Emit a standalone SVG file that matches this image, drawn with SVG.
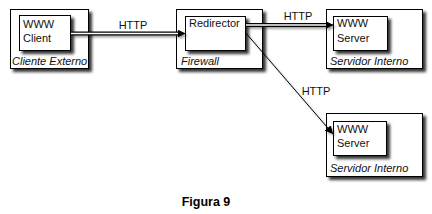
<svg xmlns="http://www.w3.org/2000/svg" width="432" height="214" viewBox="0 0 432 214">
<defs>
<filter id="sh" x="-20%" y="-20%" width="150%" height="150%">
<feDropShadow dx="3" dy="3" stdDeviation="1.5" flood-color="#000" flood-opacity="0.8"/>
</filter>
<filter id="lsh" x="-20%" y="-20%" width="150%" height="150%">
<feDropShadow dx="2" dy="2" stdDeviation="1.2" flood-color="#000" flood-opacity="0.35"/>
</filter>
<marker id="ah" viewBox="0 0 10 10" refX="10" refY="5" markerWidth="8" markerHeight="8" markerUnits="userSpaceOnUse" orient="auto">
<path d="M0,0 L10,5 L0,10 z" fill="#000"/>
</marker>
</defs>
<style>
.box{fill:#fff;stroke:#000;stroke-width:1;filter:url(#sh)}
.t{font-family:"Liberation Sans",Arial,sans-serif;font-size:11px;fill:#111}
.i{font-family:"Liberation Sans",Arial,sans-serif;font-size:11px;font-style:italic;fill:#111}
.dl{stroke:#000;stroke-width:4;fill:none}
.dw{stroke:#fff;stroke-width:1.6;fill:none}
</style>
<rect width="432" height="214" fill="#fff"/>
<g id="cliente">
<rect class="box" x="10.5" y="9.5" width="78" height="59"/>
<rect class="box" x="19.5" y="15.5" width="51" height="35"/>
<text class="t" x="23" y="28">WWW</text>
<text class="t" x="23" y="42">Client</text>
<text class="i" x="12" y="65">Cliente Externo</text>
</g>
<g id="firewall">
<rect class="box" x="176.5" y="9.5" width="86" height="59"/>
<rect class="box" x="185.5" y="16.5" width="60" height="34"/>
<text class="t" x="189" y="27">Redirector</text>
<text class="i" x="181" y="65">Firewall</text>
</g>
<g id="servidor1">
<rect class="box" x="326.5" y="9.5" width="96" height="59"/>
<rect class="box" x="333.5" y="16.5" width="54" height="34"/>
<text class="t" x="337" y="27">WWW</text>
<text class="t" x="337" y="42">Server</text>
<text class="i" x="330" y="65">Servidor Interno</text>
</g>
<g id="servidor2">
<rect class="box" x="326.5" y="113.5" width="96" height="63"/>
<rect class="box" x="333.5" y="121.5" width="53" height="34"/>
<text class="t" x="337" y="133">WWW</text>
<text class="t" x="337" y="147">Server</text>
<text class="i" x="330" y="172">Servidor Interno</text>
</g>
<g id="connectors">
<g filter="url(#lsh)">
<line class="dl" x1="71" y1="33.5" x2="179" y2="33.5"/>
<line class="dw" x1="71" y1="33.5" x2="179" y2="33.5"/>
<line x1="178" y1="33.5" x2="185.5" y2="33.5" stroke="#000" stroke-width="1" marker-end="url(#ah)"/>
<line class="dl" x1="246" y1="25" x2="327" y2="25"/>
<line class="dw" x1="246" y1="25" x2="327" y2="25"/>
<line x1="326" y1="25" x2="333.5" y2="25" stroke="#000" stroke-width="1" marker-end="url(#ah)"/>
<line x1="245" y1="32" x2="333" y2="134" stroke="#000" stroke-width="1" marker-end="url(#ah)"/>
</g>
<text class="t" x="133" y="29" text-anchor="middle">HTTP</text>
<text class="t" x="298" y="20" text-anchor="middle">HTTP</text>
<text class="t" x="316" y="95" text-anchor="middle">HTTP</text>
</g>
<text x="206" y="206" text-anchor="middle" font-family="'Liberation Sans',Arial,sans-serif" font-size="12.5" font-weight="bold">Figura 9</text>
</svg>
